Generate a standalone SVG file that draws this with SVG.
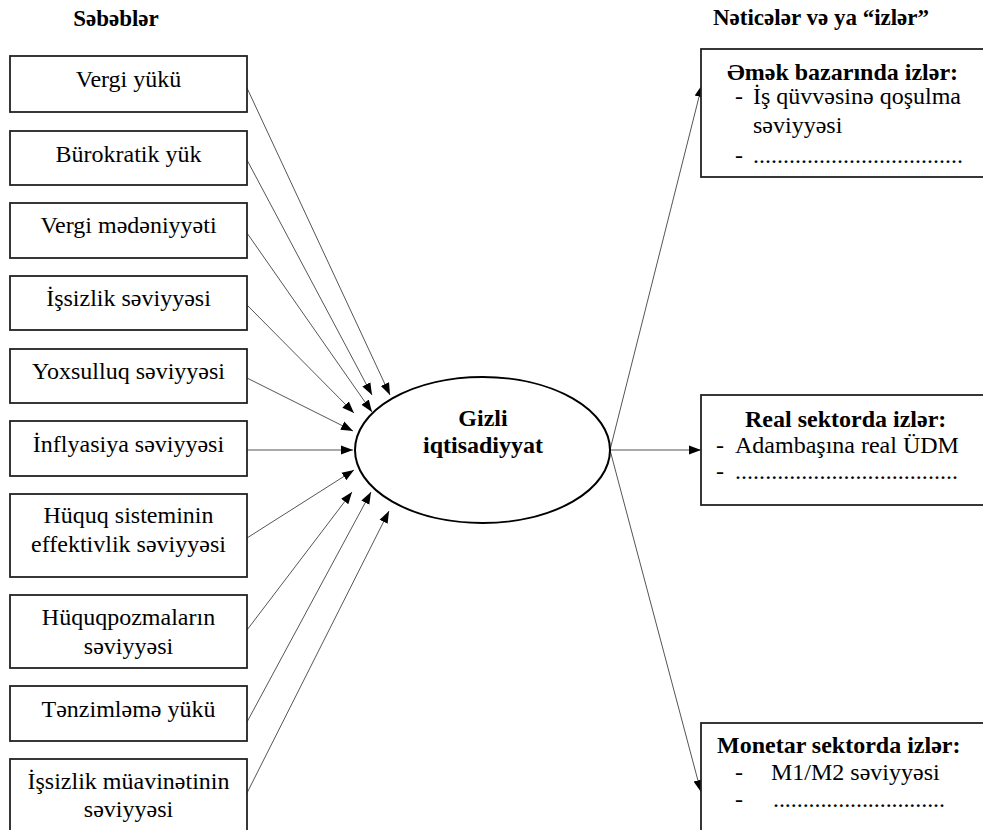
<svg xmlns="http://www.w3.org/2000/svg" width="983" height="830" viewBox="0 0 983 830">
<style>
.t{font-size:24px}
.c{text-anchor:middle}
.b{font-weight:bold}
.h{font-size:23px;font-weight:bold}
.box{fill:#fff;stroke:#222;stroke-width:1.8}
.ln{stroke:#555;stroke-width:1;fill:none;marker-end:url(#ah)}
</style>
<defs>
<marker id="ah" markerUnits="userSpaceOnUse" markerWidth="14" markerHeight="12" refX="12" refY="5" orient="auto">
<path d="M0,0.5 L12,5 L0,9.5 Z" fill="#000"/>
</marker>
</defs>
<rect width="983" height="830" fill="#fff"/>
<g font-family="'Liberation Serif', 'Times New Roman', Tinos, 'DejaVu Serif', serif" fill="#000">
<text class="h c" x="116" y="26">Səbəblər</text>
<text class="h" x="713" y="25">Nəticələr və ya “izlər”</text>

<g id="connectors">
<line class="ln" x1="247" y1="88" x2="390" y2="395"/>
<line class="ln" x1="247" y1="160" x2="372" y2="395"/>
<line class="ln" x1="247" y1="233" x2="372" y2="412"/>
<line class="ln" x1="247" y1="305" x2="354" y2="413"/>
<line class="ln" x1="247" y1="378" x2="353" y2="431"/>
<line class="ln" x1="247" y1="450" x2="353" y2="450"/>
<line class="ln" x1="247" y1="538" x2="354" y2="470"/>
<line class="ln" x1="247" y1="630" x2="352" y2="492"/>
<line class="ln" x1="247" y1="722" x2="371" y2="492"/>
<line class="ln" x1="247" y1="793" x2="389" y2="511"/>
<line class="ln" x1="610" y1="450" x2="702" y2="85"/>
<line class="ln" x1="610" y1="450" x2="701" y2="450"/>
<line class="ln" x1="610" y1="450" x2="701" y2="792"/>
</g>

<g id="c1"><rect class="box" x="10" y="56" width="237" height="56"/><text class="t c" x="128.5" y="87">Vergi yükü</text></g>
<g id="c2"><rect class="box" x="10" y="131" width="237" height="54"/><text class="t c" x="128.5" y="162">Bürokratik yük</text></g>
<g id="c3"><rect class="box" x="10" y="203" width="237" height="55"/><text class="t c" x="128.5" y="233">Vergi mədəniyyəti</text></g>
<g id="c4"><rect class="box" x="10" y="276" width="237" height="54"/><text class="t c" x="128.5" y="306">İşsizlik səviyyəsi</text></g>
<g id="c5"><rect class="box" x="10" y="349" width="237" height="54"/><text class="t c" x="128.5" y="379">Yoxsulluq səviyyəsi</text></g>
<g id="c6"><rect class="box" x="10" y="421" width="237" height="55"/><text class="t c" x="128.5" y="452">İnflyasiya səviyyəsi</text></g>
<g id="c7"><rect class="box" x="10" y="494" width="237" height="83"/><text class="t c" x="128.5" y="523">Hüquq sisteminin</text><text class="t c" x="128.5" y="552">effektivlik səviyyəsi</text></g>
<g id="c8"><rect class="box" x="10" y="595" width="237" height="73"/><text class="t c" x="128.5" y="625">Hüquqpozmaların</text><text class="t c" x="128.5" y="654">səviyyəsi</text></g>
<g id="c9"><rect class="box" x="10" y="686" width="237" height="55"/><text class="t c" x="128.5" y="717">Tənzimləmə yükü</text></g>
<g id="c10"><rect class="box" x="10" y="759" width="237" height="80"/><text class="t c" x="128.5" y="789">İşsizlik müavinətinin</text><text class="t c" x="128.5" y="817">səviyyəsi</text></g>

<g id="center"><ellipse cx="482.5" cy="450" rx="127.5" ry="73" fill="#fff" stroke="#000" stroke-width="2"/><text class="t c b" x="483" y="426">Gizli</text><text class="t c b" x="483" y="453">iqtisadiyyat</text></g>

<g id="r1"><rect class="box" x="701" y="49" width="290" height="128"/>
<text class="t b" x="727" y="80">Əmək bazarında izlər:</text>
<text class="t" x="735" y="104">-</text><text class="t" x="753" y="104">İş qüvvəsinə qoşulma</text>
<text class="t" x="753" y="133">səviyyəsi</text>
<text class="t" x="735" y="163">-</text><text class="t" x="753" y="163" textLength="210" lengthAdjust="spacing">...................................</text>
</g>
<g id="r2"><rect class="box" x="701" y="395" width="290" height="110"/>
<text class="t b" x="745" y="427">Real sektorda izlər:</text>
<text class="t" x="716" y="453">-</text><text class="t" x="735" y="453">Adambaşına real ÜDM</text>
<text class="t" x="716" y="479">-</text><text class="t" x="735" y="479" textLength="223" lengthAdjust="spacing">.....................................</text>
</g>
<g id="r3"><rect class="box" x="701" y="723" width="290" height="120"/>
<text class="t b" x="717" y="753">Monetar sektorda izlər:</text>
<text class="t" x="735" y="780">-</text><text class="t" x="771" y="780">M1/M2 səviyyəsi</text>
<text class="t" x="735" y="807">-</text><text class="t" x="773" y="807" textLength="172" lengthAdjust="spacing">.............................</text>
</g>
</g>
</svg>
